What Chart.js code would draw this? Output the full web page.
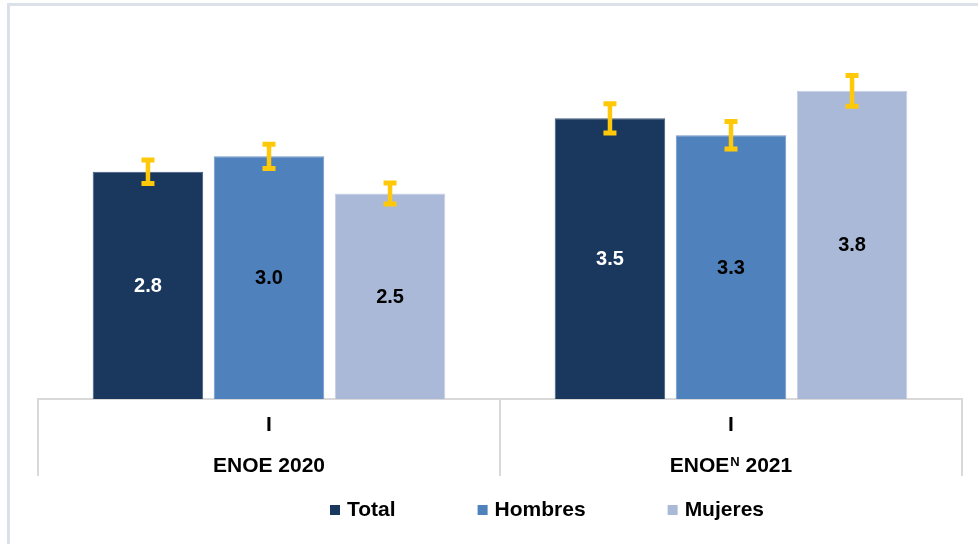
<!DOCTYPE html>
<html>
<head>
<meta charset="utf-8">
<script src="https://cdn.jsdelivr.net/npm/chart.js@4/dist/chart.umd.min.js"></script>
<style>
html, body { margin: 0; padding: 0; background: #ffffff; overflow: hidden; }
#frame { position: absolute; left: 7px; top: 3px; width: 1200px; height: 800px;
         border-left: 3px solid #dce1e9; border-top: 3px solid #dce1e9; }
#wrap { position: absolute; left: 0; top: 0; width: 978px; height: 544px; }
</style>
</head>
<body>
<div id="frame"></div>
<div id="wrap"><canvas id="c"></canvas></div>
<script>
// ---- data ----
const categories = ['I', 'I'];
const surveyNames = ['ENOE', 'ENOE'];
const surveySup = ['', 'N'];
const surveyYears = ['2020', '2021'];
const seriesNames = ['Total', 'Hombres', 'Mujeres'];
const totalValues = [2.81, 3.47];
const hombresValues = [3.00, 3.26];
const mujeresValues = [2.54, 3.81];
const totalErr = [0.145, 0.18];
const hombresErr = [0.15, 0.17];
const mujeresErr = [0.13, 0.19];
const yRange = [0, 4.5];

// ---- styles ----
const FONT = '"Liberation Sans", Arial, sans-serif';
const barColors = ['#1a375d', '#4f81bd', '#aab9d7'];
const barEdges = ['#3f5a7e', '#7397c8', '#c3cee4'];
const labelColors = ['#ffffff', '#000000', '#000000'];
const errColor = '#FFC90A';
const seriesValues = [totalValues, hombresValues, mujeresValues];
const seriesErr = [totalErr, hombresErr, mujeresErr];

const overlay = {
  id: 'overlay',
  afterDatasetsDraw(chart) {
    const ctx = chart.ctx, y = chart.scales.y;
    chart.data.datasets.forEach((ds, di) => {
      const meta = chart.getDatasetMeta(di);
      meta.data.forEach((bar, i) => {
        const v = ds.data[i];
        ctx.save();
        // value label
        ctx.font = 'bold 20px ' + FONT;
        ctx.fillStyle = labelColors[di];
        ctx.textAlign = 'center';
        ctx.textBaseline = 'middle';
        ctx.fillText(v.toFixed(1), bar.x, (bar.y + bar.base) / 2 + 1);
        // error bar
        const e = seriesErr[di][i];
        const yt = y.getPixelForValue(v + e), yb = y.getPixelForValue(v - e);
        ctx.strokeStyle = errColor;
        ctx.lineCap = 'butt';
        ctx.lineWidth = 4.5;
        ctx.beginPath();
        ctx.moveTo(bar.x, yt); ctx.lineTo(bar.x, yb);
        ctx.stroke();
        ctx.lineWidth = 5;
        ctx.beginPath();
        ctx.moveTo(bar.x - 6.5, yt); ctx.lineTo(bar.x + 6.5, yt);
        ctx.moveTo(bar.x - 6.5, yb); ctx.lineTo(bar.x + 6.5, yb);
        ctx.stroke();
        ctx.restore();
      });
    });
  },
  afterDraw(chart) {
    const ctx = chart.ctx, x = chart.scales.x, ca = chart.chartArea;
    ctx.save();
    ctx.fillStyle = '#000000';
    ctx.textBaseline = 'middle';
    // category labels
    categories.forEach((c, i) => {
      const cx = x.getPixelForValue(i);
      ctx.font = 'bold 21px ' + FONT;
      ctx.textAlign = 'center';
      ctx.fillText(c, cx, ca.bottom + 26);
      // survey label with optional superscript
      const base = surveyNames[i], sup = surveySup[i], rest = ' ' + surveyYears[i];
      ctx.font = 'bold 21px ' + FONT;
      const wb = ctx.measureText(base).width, wr = ctx.measureText(rest).width;
      ctx.font = 'bold 13px ' + FONT;
      const ws = sup ? ctx.measureText(sup).width + 1 : 0;
      let sx = cx - (wb + ws + wr) / 2;
      const ly = ca.bottom + 65;
      ctx.textAlign = 'left';
      ctx.textBaseline = 'alphabetic';
      ctx.font = 'bold 21px ' + FONT;
      ctx.fillText(base, sx, ly + 7.5);
      sx += wb;
      if (sup) {
        ctx.font = 'bold 13px ' + FONT;
        ctx.fillText(sup, sx + 1, ly + 1.5);
        sx += ws;
      }
      ctx.font = 'bold 21px ' + FONT;
      ctx.fillText(rest, sx, ly + 7.5);
      ctx.textBaseline = 'middle';
    });
    // legend
    let lx = 330;
    const ly = 510;
    ctx.font = 'bold 21px ' + FONT;
    ctx.textAlign = 'left';
    ctx.textBaseline = 'middle';
    seriesNames.forEach((name, i) => {
      ctx.fillStyle = barColors[i];
      ctx.fillRect(lx, ly - 5, 10, 10);
      ctx.fillStyle = '#000000';
      ctx.fillText(name, lx + 17, ly);
      lx += 17 + ctx.measureText(name).width + 82;
    });
    ctx.restore();
  }
};

new Chart(document.getElementById('c'), {
  type: 'bar',
  data: {
    labels: categories.map((c, i) => c + ' ' + surveyYears[i]),
    datasets: seriesNames.map((n, i) => ({
      label: n,
      data: seriesValues[i],
      backgroundColor: barColors[i],
      borderColor: barEdges[i],
      borderWidth: 1,
      categoryPercentage: 0.786,
      barPercentage: 0.913
    }))
  },
  options: {
    responsive: true,
    maintainAspectRatio: false,
    animation: false,
    layout: { padding: { top: 35, left: 38, right: 16, bottom: 68 } },
    plugins: { legend: { display: false }, tooltip: { enabled: false } },
    scales: {
      x: {
        grid: { display: true, drawOnChartArea: false, drawTicks: true, tickLength: 77,
                color: '#d9d9d9', lineWidth: 2, offset: true },
        border: { display: true, color: '#d9d9d9', width: 2 },
        ticks: { display: false }
      },
      y: { display: false, min: yRange[0], max: yRange[1] }
    }
  },
  plugins: [overlay]
});
</script>
</body>
</html>
